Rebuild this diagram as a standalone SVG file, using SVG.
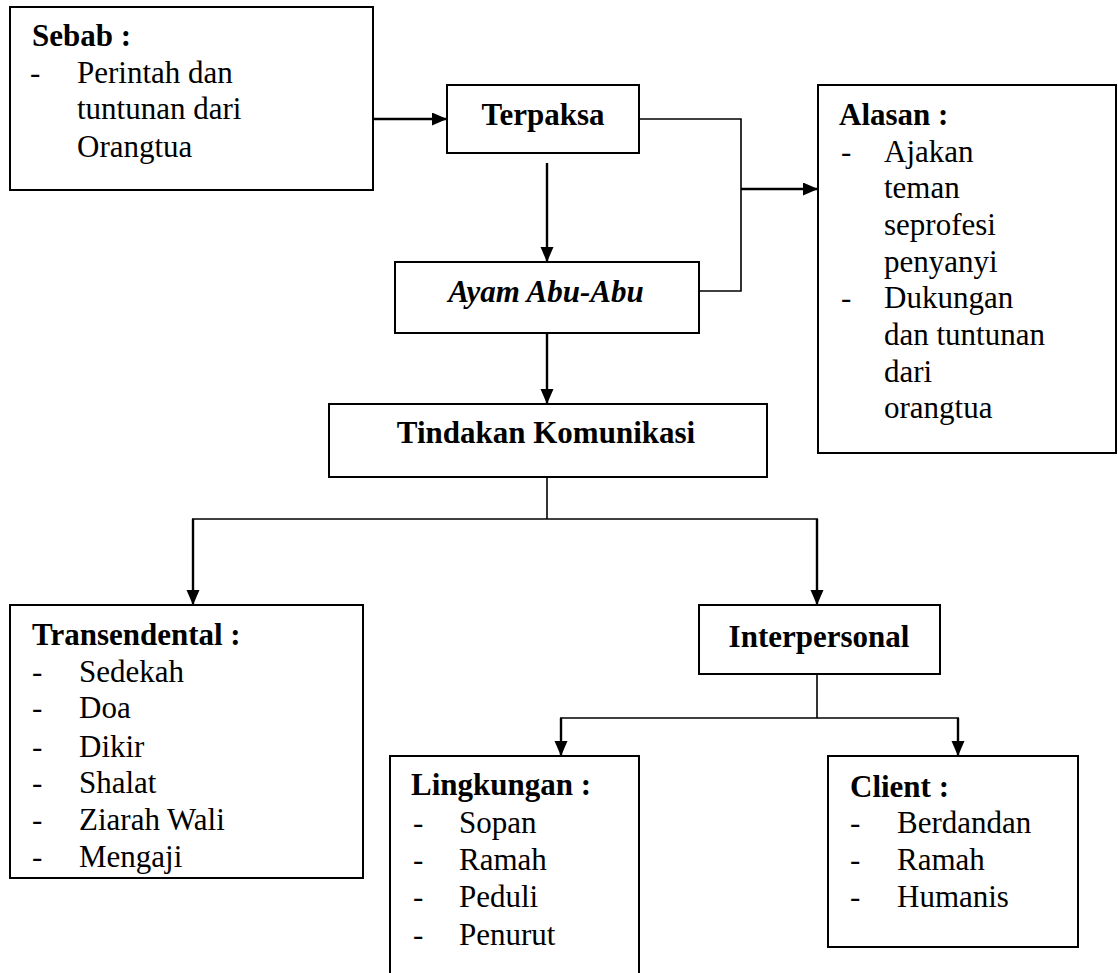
<svg xmlns="http://www.w3.org/2000/svg" width="1118" height="973" viewBox="0 0 1118 973">
<style>
.box{fill:#fff;stroke:#000;stroke-width:2}
.t{font-family:"Liberation Serif","Times New Roman",serif;font-size:31px;fill:#000}
.b{font-weight:bold}
.i{font-style:italic}
.c{text-anchor:middle}
.ln{fill:none;stroke:#000;stroke-width:1.6}
.ar{fill:none;stroke:#000;stroke-width:2.4;marker-end:url(#ah)}
</style>
<defs>
<marker id="ah" markerUnits="userSpaceOnUse" markerWidth="16" markerHeight="14" refX="15" refY="6.5" orient="auto">
<path d="M0,0 L15,6.5 L0,13 z" fill="#000"/>
</marker>
</defs>
<rect width="1118" height="973" fill="#fff"/>
<g id="connectors">
<line class="ar" x1="373" y1="119" x2="447" y2="119"/>
<line class="ar" x1="547" y1="163" x2="547" y2="262"/>
<line class="ar" x1="547" y1="333" x2="547" y2="404"/>
<polyline class="ln" points="639,119 741,119 741,291 699,291"/>
<line class="ar" x1="741" y1="189" x2="818" y2="189"/>
<line class="ln" x1="547" y1="477" x2="547" y2="519"/>
<line class="ln" x1="192" y1="519" x2="818" y2="519"/>
<line class="ar" x1="193" y1="519" x2="193" y2="605"/>
<line class="ar" x1="817" y1="519" x2="817" y2="605"/>
<line class="ln" x1="817" y1="674" x2="817" y2="718"/>
<line class="ln" x1="560" y1="718" x2="959" y2="718"/>
<line class="ar" x1="561" y1="718" x2="561" y2="756"/>
<line class="ar" x1="958" y1="718" x2="958" y2="756"/>
</g>
<g id="sebab">
<rect class="box" x="10" y="7" width="363" height="183"/>
<text class="t b" x="32" y="46">Sebab :</text>
<text class="t" x="30" y="83">-</text>
<text class="t" x="77" y="83">Perintah dan</text>
<text class="t" x="77" y="119">tuntunan dari</text>
<text class="t" x="77" y="157">Orangtua</text>
</g>
<g id="terpaksa">
<rect class="box" x="447" y="85" width="192" height="68"/>
<text class="t b c" x="543" y="125">Terpaksa</text>
</g>
<g id="ayam">
<rect class="box" x="395" y="262" width="304" height="71"/>
<text class="t b i c" x="546" y="302">Ayam Abu-Abu</text>
</g>
<g id="alasan">
<rect class="box" x="818" y="85" width="298" height="368"/>
<text class="t b" x="839" y="125">Alasan :</text>
<text class="t" x="841" y="162">-</text>
<text class="t" x="884" y="162">Ajakan</text>
<text class="t" x="884" y="198">teman</text>
<text class="t" x="884" y="235">seprofesi</text>
<text class="t" x="884" y="272">penyanyi</text>
<text class="t" x="841" y="308">-</text>
<text class="t" x="884" y="308">Dukungan</text>
<text class="t" x="884" y="345">dan tuntunan</text>
<text class="t" x="884" y="382">dari</text>
<text class="t" x="884" y="418">orangtua</text>
</g>
<g id="tindakan">
<rect class="box" x="329" y="404" width="438" height="73"/>
<text class="t b c" x="546" y="443">Tindakan Komunikasi</text>
</g>
<g id="transendental">
<rect class="box" x="10" y="605" width="353" height="273"/>
<text class="t b" x="32" y="645">Transendental :</text>
<text class="t" x="32" y="682">-</text><text class="t" x="79" y="682">Sedekah</text>
<text class="t" x="32" y="718">-</text><text class="t" x="79" y="718">Doa</text>
<text class="t" x="32" y="757">-</text><text class="t" x="79" y="757">Dikir</text>
<text class="t" x="32" y="793">-</text><text class="t" x="79" y="793">Shalat</text>
<text class="t" x="32" y="830">-</text><text class="t" x="79" y="830">Ziarah Wali</text>
<text class="t" x="32" y="867">-</text><text class="t" x="79" y="867">Mengaji</text>
</g>
<g id="interpersonal">
<rect class="box" x="699" y="605" width="241" height="69"/>
<text class="t b c" x="819" y="647">Interpersonal</text>
</g>
<g id="lingkungan">
<rect class="box" x="390" y="756" width="249" height="240"/>
<text class="t b" x="411" y="795">Lingkungan :</text>
<text class="t" x="413" y="833">-</text><text class="t" x="459" y="833">Sopan</text>
<text class="t" x="413" y="870">-</text><text class="t" x="459" y="870">Ramah</text>
<text class="t" x="413" y="907">-</text><text class="t" x="459" y="907">Peduli</text>
<text class="t" x="413" y="945">-</text><text class="t" x="459" y="945">Penurut</text>
</g>
<g id="client">
<rect class="box" x="828" y="756" width="250" height="191"/>
<text class="t b" x="850" y="797">Client :</text>
<text class="t" x="850" y="833">-</text><text class="t" x="897" y="833">Berdandan</text>
<text class="t" x="850" y="870">-</text><text class="t" x="897" y="870">Ramah</text>
<text class="t" x="850" y="907">-</text><text class="t" x="897" y="907">Humanis</text>
</g>
</svg>
